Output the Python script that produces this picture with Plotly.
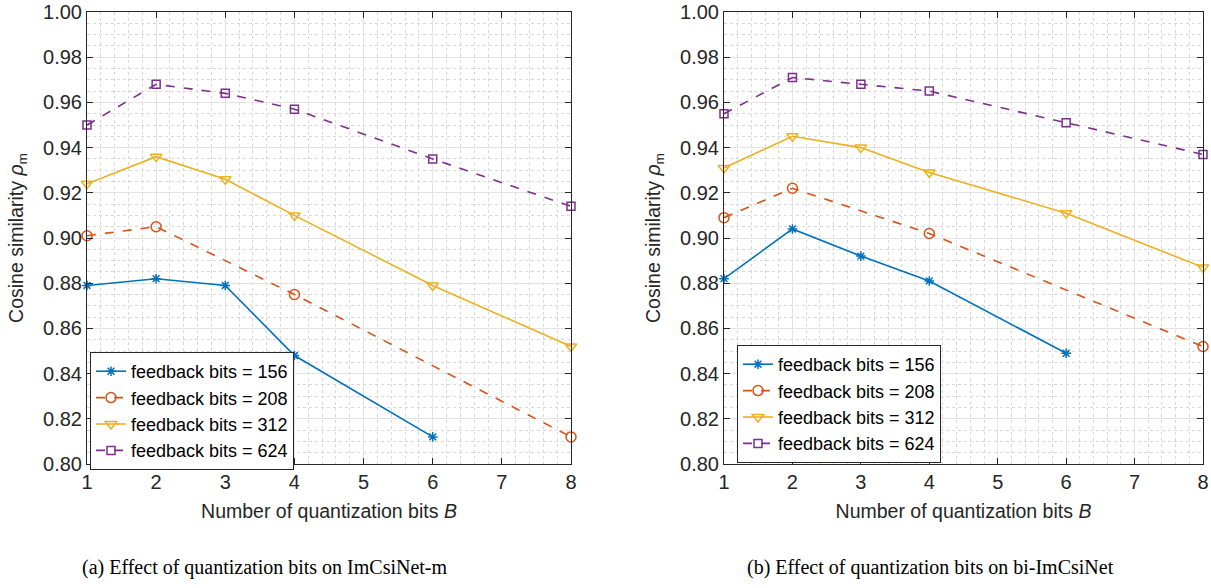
import plotly.graph_objects as go

W, H = 1211, 588

# ---------------- data ----------------
labels = ["feedback bits = 156", "feedback bits = 208",
          "feedback bits = 312", "feedback bits = 624"]

# (a) ImCsiNet-m
a_x156 = [1, 2, 3, 4, 6]
a_y156 = [0.879, 0.882, 0.879, 0.848, 0.812]
a_x208 = [1, 2, 4, 8]
a_y208 = [0.901, 0.905, 0.875, 0.812]
a_x312 = [1, 2, 3, 4, 6, 8]
a_y312 = [0.924, 0.936, 0.926, 0.910, 0.879, 0.852]
a_x624 = [1, 2, 3, 4, 6, 8]
a_y624 = [0.950, 0.968, 0.964, 0.957, 0.935, 0.914]

# (b) bi-ImCsiNet
b_x156 = [1, 2, 3, 4, 6]
b_y156 = [0.882, 0.904, 0.892, 0.881, 0.849]
b_x208 = [1, 2, 4, 8]
b_y208 = [0.909, 0.922, 0.902, 0.852]
b_x312 = [1, 2, 3, 4, 6, 8]
b_y312 = [0.931, 0.945, 0.940, 0.929, 0.911, 0.887]
b_x624 = [1, 2, 3, 4, 6, 8]
b_y624 = [0.955, 0.971, 0.968, 0.965, 0.951, 0.937]

x_ticks = [1, 2, 3, 4, 5, 6, 7, 8]
y_ticks = [0.80, 0.82, 0.84, 0.86, 0.88, 0.90, 0.92, 0.94, 0.96, 0.98, 1.00]

captions = ["(a) Effect of quantization bits on ImCsiNet-m",
            "(b) Effect of quantization bits on bi-ImCsiNet"]

colors = ["#0072BD", "#D95319", "#EDB120", "#7E2F8E"]
dashes = ["solid", "dash", "solid", "dash"]
symbols = ["asterisk-open", "circle-open", "triangle-down-open", "square-open"]
msizes = [8, 10, 10, 8]

fig = go.Figure()

panels = [
    ([a_x156, a_x208, a_x312, a_x624], [a_y156, a_y208, a_y312, a_y624], "x", "y", "legend"),
    ([b_x156, b_x208, b_x312, b_x624], [b_y156, b_y208, b_y312, b_y624], "x2", "y2", "legend2"),
]
for xs, ys, xa, ya, lg in panels:
    for i in range(4):
        fig.add_trace(go.Scatter(
            x=xs[i], y=ys[i], mode="lines+markers", name=labels[i],
            xaxis=xa, yaxis=ya, legend=lg, cliponaxis=False,
            line=dict(color=colors[i], width=1.6, dash=dashes[i]),
            marker=dict(symbol=symbols[i], size=msizes[i], color=colors[i],
                        line=dict(color=colors[i], width=1.5)),
        ))

def px_x(v):
    return v / W

def px_y(v):
    return 1 - v / H

ytop = px_y(12)
ybot = px_y(464)
dom_a = [px_x(87), px_x(571)]
dom_b = [px_x(724), px_x(1203)]

tick_font = dict(family="Liberation Sans, Arial, sans-serif", size=20, color="#262626")
title_font = dict(family="Liberation Sans, Arial, sans-serif", size=19.5, color="#262626")

def xaxis(dom, anchor):
    return dict(domain=dom, anchor=anchor, range=[1, 8], tickvals=x_ticks,
                ticks="inside", ticklen=6, tickcolor="#262626", showline=True,
                linecolor="#262626", linewidth=1, mirror="ticks",
                showgrid=True, gridcolor="#e3e3e3", gridwidth=1, zeroline=False,
                minor=dict(dtick=0.2, showgrid=True, gridcolor="#d8d8d8",
                           griddash="dot", gridwidth=1, ticks=""),
                tickfont=tick_font, ticklabeloverflow="allow",
                title=dict(text="Number of quantization bits <i>B</i>", font=title_font, standoff=12),
                automargin=False)

def yaxis(dom, anchor):
    return dict(domain=dom, anchor=anchor, range=[0.80, 1.00], tickvals=y_ticks,
                tickformat=".2f",
                ticks="inside", ticklen=6, tickcolor="#262626", showline=True,
                linecolor="#262626", linewidth=1, mirror="ticks",
                showgrid=True, gridcolor="#e3e3e3", gridwidth=1, zeroline=False,
                minor=dict(dtick=0.005, showgrid=True, gridcolor="#d8d8d8",
                           griddash="dot", gridwidth=1, ticks=""),
                tickfont=tick_font, ticklabeloverflow="allow",
                title=dict(text="Cosine similarity <i>ρ</i><sub>m</sub>", font=title_font, standoff=14),
                automargin=False)

leg_common = dict(font=dict(family="Liberation Sans, Arial, sans-serif", size=18, color="#000000"),
                  bgcolor="#ffffff", bordercolor="#262626", borderwidth=1,
                  xanchor="left", yanchor="top", tracegroupgap=0, itemwidth=30)

fig.update_layout(
    width=W, height=H,
    margin=dict(l=0, r=0, t=0, b=0),
    paper_bgcolor="#ffffff", plot_bgcolor="#ffffff",
    xaxis=xaxis(dom_a, "y"), yaxis=yaxis([ybot, ytop], "x"),
    xaxis2=xaxis(dom_b, "y2"), yaxis2=yaxis([ybot, ytop], "x2"),
    legend=dict(x=px_x(90), y=px_y(352), **leg_common),
    legend2=dict(x=px_x(737), y=px_y(345), **leg_common),
    showlegend=True,
)

cap_font = dict(family="Liberation Serif, Times New Roman, serif", size=20, color="#000000")
fig.add_annotation(text=captions[0], x=px_x(265), y=px_y(567), xref="paper", yref="paper",
                   showarrow=False, font=cap_font, xanchor="center", yanchor="middle")
fig.add_annotation(text=captions[1], x=px_x(930), y=px_y(567), xref="paper", yref="paper",
                   showarrow=False, font=cap_font, xanchor="center", yanchor="middle")

fig.write_html("out.html", config={"displayModeBar": False},
               post_script="document.body.style.margin='0px';document.body.style.overflow='hidden';")
